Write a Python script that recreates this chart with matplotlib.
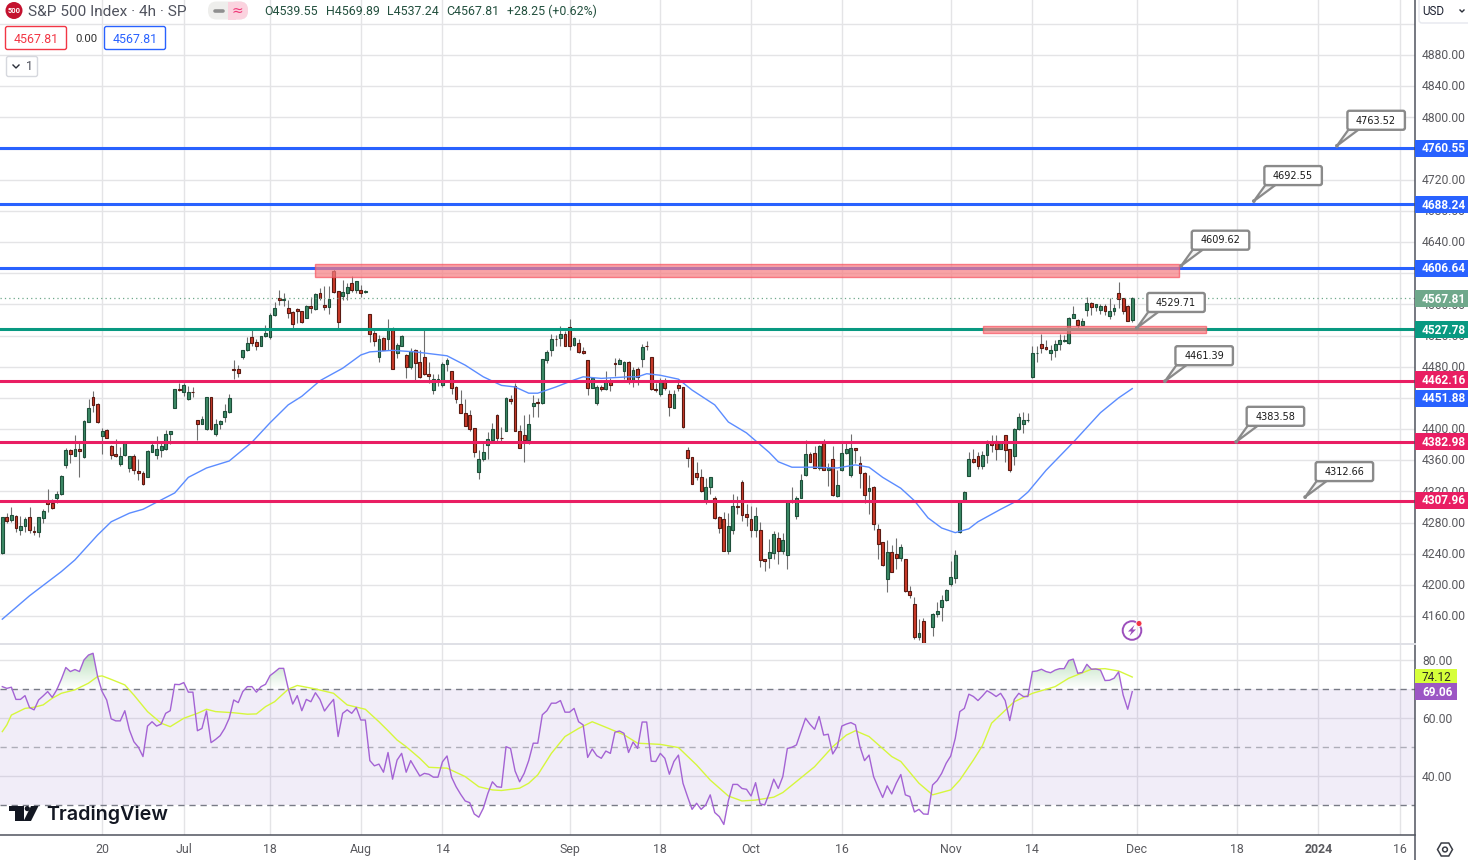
import numpy as np
import matplotlib
matplotlib.use("Agg")
import matplotlib.pyplot as plt
from matplotlib.patches import Circle, FancyBboxPatch, Polygon, Rectangle

plt.rcParams["font.family"] = ["Roboto", "DejaVu Sans"]

nan = float("nan")

# 4h candles, one slot per bar (no bar printed in slot 204)
opens = [
    4241, 4287, 4283, 4289, 4270, 4275, 4287, 4269, 4268, 4286,
    4308, 4305, 4312, 4316, 4354, 4373, 4366, 4375, 4364, 4409,
    4441, 4432, 4391, 4399, 4378, 4368, 4355, 4367, 4350, 4365,
    4346, 4343, 4339, 4371, 4367, 4373, 4375, 4393, 4427, 4451,
    4447, 4438, 4448, 4411, 4407, 4400, 4441, 4394, 4406, 4416,
    4422, 4477, 4477, 4492, 4501, 4518, 4512, 4507, 4519, 4518,
    4546, 4568, 4566, 4555, 4550, 4554, 4552, 4543, 4558, 4554,
    4575, 4559, 4556, 4603, 4577, 4571, 4575, 4587, 4579, 4578,
    4576, 4547, 4523, 4493, 4517, 4516, 4528, 4497, 4507, 4495,
    4480, 4502, 4486, 4492, 4471, 4450, 4463, 4457, 4483, 4474,
    4454, 4432, 4421, 4418, 4401, 4345, 4361, 4380, 4386, 4418,
    4389, 4398, 4439, 4455, 4398, 4392, 4386, 4429, 4435, 4433,
    4489, 4501, 4516, 4517, 4522, 4531, 4508, 4510, 4500, 4489,
    4453, 4433, 4454, 4451, 4462, 4485, 4484, 4474, 4486, 4463,
    4477, 4490, 4507, 4493, 4451, 4445, 4462, 4445, 4427, 4456,
    4454, 4373, 4364, 4343, 4338, 4309, 4326, 4311, 4287, 4285,
    4243, 4271, 4301, 4332, 4291, 4284, 4271, 4270, 4233, 4235,
    4241, 4260, 4243, 4238, 4307, 4289, 4312, 4341, 4368, 4369,
    4350, 4382, 4347, 4361, 4314, 4347, 4369, 4341, 4376, 4356,
    4343, 4321, 4326, 4272, 4255, 4208, 4242, 4239, 4234, 4233,
    4192, 4176, 4133, 4154, nan,
    4146, 4162, 4172, 4180, 4201, 4209, 4268, 4307, 4340, 4362,
    4365, 4353, 4367, 4382, 4385, 4374, 4392, 4374, 4366, 4400,
    4407, 4411, 4467, 4497, 4509, 4505, 4497, 4501, 4509, 4513,
    4510, 4543, 4540, 4534, 4553, 4562, 4556, 4553, 4558, 4545,
    4551, 4574, 4568, 4558, 4539.55,
]
highs = [
    4287, 4292, 4300, 4290, 4288, 4287, 4300, 4276, 4287, 4298,
    4323, 4310, 4320, 4341, 4376, 4375, 4392, 4384, 4412, 4439,
    4449, 4433, 4401, 4400, 4379, 4387, 4377, 4383, 4366, 4368,
    4362, 4346, 4373, 4384, 4391, 4384, 4399, 4397, 4452, 4459,
    4459, 4455, 4454, 4412, 4417, 4441, 4441, 4413, 4412, 4432,
    4445, 4489, 4482, 4502, 4518, 4527, 4516, 4520, 4534, 4549,
    4563, 4578, 4575, 4566, 4552, 4555, 4552, 4559, 4570, 4575,
    4581, 4583, 4584, 4608, 4577, 4591, 4587, 4596, 4590, 4585,
    4579, 4547, 4527, 4521, 4518, 4541, 4531, 4511, 4521, 4496,
    4504, 4503, 4501, 4528, 4486, 4471, 4471, 4486, 4491, 4475,
    4455, 4450, 4439, 4424, 4401, 4373, 4382, 4396, 4408, 4419,
    4402, 4441, 4444, 4459, 4405, 4418, 4419, 4444, 4440, 4490,
    4501, 4522, 4521, 4532, 4526, 4541, 4518, 4516, 4505, 4489,
    4467, 4456, 4456, 4474, 4465, 4491, 4491, 4487, 4487, 4479,
    4480, 4509, 4513, 4493, 4459, 4466, 4465, 4450, 4450, 4460,
    4454, 4377, 4364, 4358, 4349, 4337, 4339, 4314, 4288, 4294,
    4292, 4317, 4314, 4335, 4304, 4301, 4300, 4281, 4233, 4259,
    4269, 4268, 4266, 4309, 4326, 4314, 4342, 4386, 4371, 4378,
    4380, 4387, 4357, 4378, 4347, 4385, 4385, 4394, 4376, 4365,
    4345, 4341, 4327, 4278, 4255, 4257, 4251, 4260, 4253, 4233,
    4198, 4185, 4156, 4157, nan,
    4164, 4178, 4187, 4195, 4231, 4245, 4308, 4320, 4370, 4374,
    4371, 4372, 4386, 4392, 4392, 4385, 4392, 4374, 4401, 4420,
    4422, 4420, 4506, 4506, 4522, 4514, 4508, 4514, 4522, 4521,
    4544, 4558, 4541, 4543, 4569, 4563, 4561, 4561, 4561, 4568,
    4561, 4589, 4568, 4559, 4569.89,
]
lows = [
    4240, 4279, 4281, 4268, 4264, 4268, 4266, 4264, 4262, 4280,
    4293, 4298, 4305, 4315, 4350, 4356, 4365, 4339, 4363, 4409,
    4422, 4408, 4368, 4388, 4361, 4364, 4353, 4366, 4345, 4342,
    4334, 4328, 4338, 4370, 4361, 4364, 4373, 4381, 4427, 4449,
    4442, 4437, 4441, 4386, 4406, 4399, 4399, 4391, 4400, 4409,
    4421, 4464, 4467, 4490, 4500, 4506, 4501, 4506, 4518, 4516,
    4545, 4559, 4558, 4542, 4529, 4536, 4536, 4542, 4549, 4553,
    4566, 4553, 4548, 4575, 4529, 4565, 4565, 4576, 4574, 4569,
    4574, 4512, 4507, 4486, 4501, 4501, 4477, 4491, 4507, 4465,
    4477, 4462, 4466, 4469, 4459, 4445, 4455, 4454, 4474, 4445,
    4434, 4420, 4404, 4398, 4364, 4336, 4359, 4361, 4385, 4385,
    4384, 4397, 4432, 4397, 4376, 4358, 4381, 4416, 4416, 4432,
    4485, 4494, 4507, 4507, 4507, 4501, 4507, 4497, 4496, 4444,
    4453, 4431, 4449, 4450, 4449, 4468, 4483, 4464, 4458, 4454,
    4456, 4479, 4501, 4450, 4447, 4442, 4450, 4417, 4427, 4449,
    4401, 4351, 4329, 4335, 4319, 4304, 4317, 4285, 4267, 4243,
    4240, 4265, 4291, 4282, 4276, 4262, 4262, 4223, 4218, 4222,
    4233, 4227, 4240, 4221, 4305, 4284, 4311, 4340, 4358, 4350,
    4347, 4347, 4327, 4314, 4313, 4346, 4368, 4339, 4356, 4324,
    4305, 4291, 4270, 4233, 4224, 4191, 4216, 4220, 4230, 4191,
    4183, 4131, 4129, 4125, nan,
    4134, 4159, 4154, 4179, 4199, 4203, 4267, 4306, 4340, 4357,
    4349, 4349, 4357, 4371, 4360, 4374, 4358, 4345, 4354, 4399,
    4395, 4409, 4466, 4486, 4497, 4502, 4489, 4493, 4501, 4512,
    4509, 4542, 4528, 4533, 4545, 4546, 4552, 4548, 4546, 4541,
    4546, 4555, 4548, 4538, 4537.24,
]
closes = [
    4287, 4282, 4290, 4273, 4275, 4284, 4271, 4268, 4287, 4295,
    4304, 4299, 4317, 4340, 4373, 4368, 4375, 4372, 4410, 4427,
    4431, 4409, 4397, 4389, 4367, 4365, 4366, 4382, 4365, 4348,
    4343, 4329, 4372, 4379, 4374, 4378, 4394, 4397, 4451, 4450,
    4457, 4448, 4447, 4407, 4413, 4441, 4400, 4406, 4410, 4423,
    4440, 4476, 4472, 4501, 4510, 4511, 4506, 4519, 4523, 4546,
    4555, 4565, 4567, 4549, 4535, 4551, 4537, 4558, 4555, 4573,
    4568, 4556, 4567, 4576, 4537, 4576, 4582, 4579, 4590, 4575,
    4577, 4522, 4513, 4516, 4501, 4528, 4477, 4508, 4519, 4480,
    4500, 4485, 4467, 4471, 4468, 4464, 4464, 4483, 4489, 4453,
    4438, 4421, 4404, 4400, 4371, 4362, 4370, 4387, 4400, 4389,
    4388, 4440, 4436, 4398, 4376, 4386, 4406, 4434, 4434, 4490,
    4499, 4515, 4515, 4522, 4507, 4507, 4517, 4499, 4497, 4453,
    4466, 4454, 4451, 4461, 4457, 4484, 4489, 4486, 4462, 4476,
    4467, 4505, 4506, 4451, 4450, 4462, 4453, 4428, 4445, 4453,
    4402, 4363, 4330, 4338, 4320, 4326, 4338, 4286, 4273, 4244,
    4275, 4301, 4300, 4290, 4287, 4271, 4289, 4232, 4230, 4242,
    4265, 4243, 4258, 4307, 4309, 4312, 4335, 4368, 4358, 4350,
    4378, 4348, 4350, 4315, 4328, 4369, 4374, 4376, 4373, 4343,
    4315, 4324, 4278, 4253, 4225, 4242, 4217, 4234, 4248, 4192,
    4187, 4133, 4138, 4126, nan,
    4162, 4167, 4180, 4194, 4210, 4238, 4308, 4319, 4362, 4358,
    4353, 4367, 4381, 4379, 4374, 4383, 4373, 4347, 4400, 4415,
    4411, 4412, 4497, 4498, 4504, 4503, 4501, 4509, 4514, 4514,
    4543, 4548, 4534, 4539, 4562, 4556, 4560, 4558, 4551, 4551,
    4555, 4567, 4551, 4539, 4567.81,
]

# moving average, read at the bars where it bends
ma_bars = [
    0, 6, 13, 16, 21, 24, 28, 31, 35, 38, 41, 45, 50, 55, 59, 63, 66, 70, 75, 79, 81,
    86, 91, 98, 102, 106, 110, 113, 116, 118, 122, 126, 128, 132, 138, 140, 142, 145,
    149, 152, 157, 160, 164, 169, 171, 174, 179, 184, 188, 191, 194, 198, 201, 204,
    207, 210, 213, 215, 220, 224, 226, 230, 236, 242, 246, 249,
]
ma_values = [
    4156, 4186, 4217, 4232, 4264, 4281, 4292, 4297, 4309, 4318, 4338, 4350, 4359, 4383,
    4408, 4431, 4442, 4462, 4478, 4495, 4499, 4501, 4499, 4494, 4482, 4467, 4456, 4454,
    4446, 4446, 4454, 4463, 4467, 4465, 4467, 4467, 4471, 4469, 4464, 4450, 4431, 4409,
    4395, 4370, 4358, 4351, 4351, 4350, 4354, 4351, 4338, 4324, 4308, 4286, 4273, 4267,
    4272, 4281, 4297, 4309, 4319, 4347, 4383, 4421, 4440, 4451.88,
]

rsi_values = [
    70.8, 70.2, 70.6, 66.4, 66.4, 67.7, 63.6, 62.8, 66.2, 67.6,
    69.1, 67.1, 69.7, 73.3, 77.4, 76.0, 76.7, 76.0, 80.0, 81.7,
    82.3, 74.3, 69.1, 66.2, 59.7, 59.0, 59.0, 62.5, 55.9, 51.8,
    49.9, 46.7, 57.2, 58.7, 57.2, 57.9, 61.6, 62.5, 71.6, 71.5,
    72.2, 68.9, 68.9, 55.6, 56.4, 62.4, 51.5, 52.6, 53.9, 56.4,
    59.9, 66.2, 65.3, 69.1, 70.8, 70.8, 68.9, 70.8, 71.6, 74.6,
    75.8, 77.1, 77.1, 70.2, 64.8, 67.7, 62.5, 66.4, 65.6, 68.7,
    66.4, 62.4, 64.5, 66.4, 53.6, 61.6, 62.8, 61.6, 63.6, 59.3,
    59.3, 45.3, 43.5, 44.1, 41.3, 48.1, 38.9, 45.5, 47.8, 41.3,
    45.3, 42.6, 40.0, 40.9, 40.6, 39.6, 39.6, 44.9, 46.9, 39.6,
    36.3, 33.7, 31.4, 30.8, 26.9, 25.8, 28.9, 34.0, 38.0, 36.3,
    36.1, 50.1, 49.5, 41.7, 38.0, 40.9, 45.3, 51.3, 51.3, 61.1,
    62.5, 65.1, 65.1, 66.0, 62.0, 62.0, 63.3, 58.7, 57.6, 46.4,
    49.3, 47.0, 46.1, 48.6, 47.8, 55.1, 55.5, 54.7, 48.1, 51.7,
    49.5, 58.6, 58.6, 45.1, 45.0, 47.8, 46.1, 40.6, 45.0, 47.2,
    37.5, 32.9, 28.5, 30.6, 28.5, 30.0, 33.5, 27.4, 26.0, 23.3,
    31.5, 37.1, 37.1, 35.7, 35.4, 33.1, 37.7, 30.4, 30.0, 34.0,
    38.9, 35.7, 39.8, 49.5, 49.9, 50.7, 55.3, 59.9, 57.8, 56.1,
    60.5, 54.1, 54.4, 47.6, 50.1, 57.2, 57.9, 58.4, 57.6, 50.1,
    45.3, 47.2, 39.8, 36.1, 32.6, 36.6, 33.8, 37.5, 40.5, 33.5,
    32.9, 27.6, 28.5, 26.9, 26.8, 36.9, 38.4, 40.9, 44.4, 46.9,
    53.0, 62.2, 63.3, 68.2, 67.4, 66.0, 67.6, 69.4, 68.5, 67.4,
    68.5, 66.0, 59.1, 66.4, 68.5, 67.4, 67.4, 76.0, 76.2, 76.8,
    76.0, 75.6, 76.5, 77.0, 77.0, 79.8, 80.3, 75.4, 75.7, 78.5,
    76.8, 76.9, 76.5, 72.9, 73.0, 73.7, 75.9, 67.9, 63.0, 69.06,
]
rsi_ma_bars = [
    0, 1, 2, 5, 7, 9, 11, 13, 16, 19, 21, 22, 24, 27, 29, 32, 35, 37, 40, 43, 45, 47,
    51, 54, 56, 58, 60, 63, 65, 69, 73, 76, 80, 83, 85, 87, 89, 92, 94, 98, 102, 105,
    108, 110, 114, 116, 118, 121, 124, 127, 130, 133, 137, 140, 145, 149, 153, 156,
    160, 163, 166, 170, 172, 175, 179, 183, 186, 188, 191, 196, 198, 202, 205, 209,
    211, 214, 216, 218, 223, 227, 232, 235, 240, 243, 246, 249,
]
rsi_ma_values = [
    55.3, 57.6, 61.0, 63.3, 63.7, 64.5, 66.8, 68.5, 69.7, 72.0, 74.3, 74.5, 73.3, 71.4,
    67.9, 62.2, 58.2, 57.0, 59.9, 61.6, 63.0, 62.2, 61.8, 61.3, 61.4, 63.9, 65.6, 69.9,
    71.2, 70.0, 68.5, 64.5, 63.0, 58.7, 55.6, 52.4, 50.1, 46.1, 43.0, 42.7, 39.8, 36.3,
    35.2, 35.0, 35.8, 37.5, 40.4, 47.8, 53.6, 56.4, 58.7, 56.8, 54.2, 51.3, 50.9, 49.8,
    43.8, 38.6, 33.1, 31.4, 31.7, 32.7, 34.3, 38.1, 43.2, 50.1, 54.1, 55.6, 53.6, 46.7,
    45.0, 37.5, 33.5, 35.2, 38.6, 45.5, 50.5, 58.2, 65.6, 68.5, 70.8, 73.7, 76.8, 77.0,
    76.2, 74.12,
]

levels_blue = [4760.55, 4688.24, 4606.64]
levels_green = [4527.78]
levels_pink = [4462.16, 4382.98, 4307.96]
last_close = 4567.81

# bar slot, price and text of the callouts
callout_bars = [294.1, 275.8, 259.8, 250.0, 256.2, 271.9, 287.1]
callout_prices = [4763.52, 4692.55, 4609.62, 4529.71, 4461.39, 4383.58, 4312.66]

zone_bars = [(68.9, 259.3), (216.1, 265.2)]
zone_prices = [(4595, 4612), (4523, 4532)]

time_bars = [22, 40, 59, 79, 97, 125, 145, 165, 185, 209, 227, 250, 272, 290, 308]
time_labels = ["20", "Jul", "18", "Aug", "14", "Sep", "18", "Oct", "16", "Nov", "14", "Dec", "18", "2024", "16"]
price_ticks = [4160 + 40 * k for k in range(19)]
# these three sit fully behind a level tag in the reference
hidden_ticks = [4760, 4600, 4440]
grid_prices = price_ticks + [4920]
rsi_ticks = [40, 60, 80]

opens = np.array(opens, dtype=float)
highs = np.array(highs, dtype=float)
lows = np.array(lows, dtype=float)
closes = np.array(closes, dtype=float)
rsi_values = np.array(rsi_values)
bars = np.arange(len(opens))

W, H = 1468, 860
BLUE = "#2962ff"
TEAL = "#089981"
PINK = "#e91e63"
GRID = "#e4e4e6"
LABEL = "#5a5a5f"
AXIS = "#50535e"


def px_rect(left, top, right, bottom):
    return [left / W, 1 - bottom / H, (right - left) / W, (bottom - top) / H]


fig = plt.figure(figsize=(W / 100, H / 100), dpi=100, facecolor="white")
ax = fig.add_axes(px_rect(0, 0, 1414.5, 643))
ax_rsi = fig.add_axes(px_rect(0, 644, 1414.5, 835))
ov = fig.add_axes([0, 0, 1, 1], zorder=10)
ov.set_xlim(0, W)
ov.set_ylim(H, 0)
ov.axis("off")
ov.patch.set_alpha(0)

xlim = (-0.507, 311.2)

# price pane
ax.set_xlim(*xlim)
ax.set_ylim(4125.4, 4950.6)
ax.set_xticks(time_bars)
ax.set_xticklabels([])
ax.set_yticks(grid_prices)
ax.set_yticklabels([])
ax.tick_params(length=0)
ax.grid(True, color=GRID, lw=1, zorder=0)
ax.set_axisbelow(True)
for s in ax.spines.values():
    s.set_visible(False)

up = closes >= opens
ax.vlines(bars, lows, highs, color="#6f6f6f", lw=0.8, zorder=2)
body_low = np.minimum(opens, closes)
body_h = np.abs(closes - opens)
ax.bar(bars[up], body_h[up], bottom=body_low[up], width=0.62, color="#3c8a66", edgecolor="#1e4f3a", lw=0.8, zorder=3)
ax.bar(bars[~up], body_h[~up], bottom=body_low[~up], width=0.62, color="#cb3a29", edgecolor="#5a1a12", lw=0.8, zorder=3)
ax.plot(ma_bars, ma_values, color="#5b8cff", lw=1.0, zorder=4)

ax.axhline(last_close, color="#6fa88b", lw=0.9, ls=(0, (1, 2.5)), zorder=4)
for p in levels_blue:
    ax.axhline(p, color=BLUE, lw=2.2, zorder=5)
for p in levels_green:
    ax.axhline(p, color=TEAL, lw=2.2, zorder=5)
for p in levels_pink:
    ax.axhline(p, color=PINK, lw=2.2, zorder=5)

for (x0, x1), (p0, p1) in zip(zone_bars, zone_prices):
    ax.add_patch(Rectangle((x0, p0), x1 - x0, p1 - p0, facecolor="#f77c80", alpha=0.7, edgecolor="#f7525f", lw=1, zorder=6))

# rsi pane
ax_rsi.set_xlim(*xlim)
ax_rsi.set_ylim(19.66, 85.5)
ax_rsi.set_xticks(time_bars)
ax_rsi.set_xticklabels(time_labels, fontsize=8.9, color=LABEL)
ax_rsi.set_yticks(rsi_ticks)
ax_rsi.set_yticklabels([])
ax_rsi.tick_params(length=0, pad=5.5)
ax_rsi.grid(True, color=GRID, lw=1, zorder=0)
ax_rsi.set_axisbelow(True)
ax_rsi.get_xticklabels()[time_labels.index("2024")].set_fontweight("bold")
for s in ax_rsi.spines.values():
    s.set_visible(False)
ax_rsi.axhspan(30, 70, color="#7e57c2", alpha=0.1, lw=0, zorder=1)
for lvl, alpha in ((70, 1), (50, 0.55), (30, 1)):
    ax_rsi.axhline(lvl, color="#787b86", alpha=alpha, lw=1, ls=(0, (4.5, 3.5)), zorder=2)

# gradient under the overbought and oversold parts of the line
top_grad = np.zeros((64, 2, 4))
top_grad[..., 0:3] = matplotlib.colors.to_rgb("#4caf50")
top_grad[..., 3] = np.linspace(0.42, 0, 64)[:, None]
low_grad = np.zeros((64, 2, 4))
low_grad[..., 0:3] = matplotlib.colors.to_rgb("#8a9a80")
low_grad[..., 3] = np.linspace(0, 0.14, 64)[:, None]
poly_hi = ax_rsi.fill_between(bars, 70, rsi_values, where=rsi_values >= 70, interpolate=True, color="none")
poly_lo = ax_rsi.fill_between(bars, 30, rsi_values, where=rsi_values <= 30, interpolate=True, color="none")
for poly, grad, ext in ((poly_hi, top_grad, (xlim[0], xlim[1], 70, 83)), (poly_lo, low_grad, (xlim[0], xlim[1], 22, 30))):
    for path in poly.get_paths():
        im = ax_rsi.imshow(grad, extent=ext, aspect="auto", origin="upper", zorder=2)
        im.set_clip_path(path, transform=ax_rsi.transData)
ax_rsi.set_xlim(*xlim)
ax_rsi.set_ylim(19.66, 85.5)

ax_rsi.plot(bars, rsi_values, color="#a463d4", lw=1.0, zorder=4)
ax_rsi.plot(rsi_ma_bars, rsi_ma_values, color="#d6f73c", lw=1.0, zorder=3)


def to_ov(axes, x, y):
    return ov.transData.inverted().transform(axes.transData.transform((x, y)))


# frame lines
ov.plot([1414.5, 1414.5], [0, H], color=AXIS, lw=1.1)
ov.plot([0, 1414.5], [835, 835], color=AXIS, lw=1.1)
ov.plot([0, 1414.5], [643.5, 643.5], color="#dfe0e6", lw=1.4)

# axis labels
for p in price_ticks:
    if p in hidden_ticks:
        continue
    _, y = to_ov(ax, 0, p)
    ov.text(1422, y + 0.8, f"{p:.2f}", fontsize=8.7, color=LABEL, va="center", ha="left")
for p in rsi_ticks:
    _, y = to_ov(ax_rsi, 0, p)
    ov.text(1422, y + 1.2, f"{p:.2f}", fontsize=8.7, color=LABEL, va="center", ha="left")


def tag(y, text, bg, fg="white", right=W, weight="bold"):
    ov.add_patch(Rectangle((1414.5, y - 8.5), right - 1414.5, 17, facecolor=bg, edgecolor="none", zorder=3))
    ov.text(1422, y + 0.8, text, fontsize=8.5, color=fg, va="center", ha="left", fontweight=weight, zorder=4)


for p in levels_blue:
    tag(to_ov(ax, 0, p)[1], f"{p:.2f}", BLUE)
tag(to_ov(ax, 0, last_close)[1], f"{last_close:.2f}", "#6fa88b")
for p in levels_green:
    tag(to_ov(ax, 0, p)[1], f"{p:.2f}", TEAL)
for p in levels_pink:
    tag(to_ov(ax, 0, p)[1] - 0.6, f"{p:.2f}", PINK)
# the average's tag gets pushed below the 4462.16 one, as the platform does
tag(to_ov(ax, 0, ma_values[-1])[1] + 9.5, f"{ma_values[-1]:.2f}", BLUE)
tag(to_ov(ax_rsi, 0, rsi_ma_values[-1])[1], f"{rsi_ma_values[-1]:.2f}", "#d6ff3a", fg="#2a2a20", right=1457, weight="normal")
tag(to_ov(ax_rsi, 0, rsi_values[-1])[1], f"{rsi_values[-1]:.2f}", "#9c56c4", right=1457)

# callouts
for b, p in zip(callout_bars, callout_prices):
    ax_x, ax_y = to_ov(ax, b, p)
    left, bottom = ax_x + 9.5, ax_y - 15.5
    ov.add_patch(Polygon([(ax_x, ax_y), (left + 2, bottom - 0.5), (left + 12, bottom - 0.5)], closed=True,
                         facecolor="#f4f4f4", edgecolor="#8a8a8a", lw=1.6, zorder=5))
    ov.add_patch(FancyBboxPatch((left + 1, bottom - 19.5), 57.5, 19, boxstyle="round,pad=0,rounding_size=2",
                                facecolor="white", edgecolor="#8a8a8a", lw=1.7, zorder=6))
    ov.add_patch(Circle((ax_x, ax_y), 1.9, facecolor="#8a8a8a", edgecolor="none", zorder=6))
    ov.text(left + 29.7, bottom - 9.7, f"{p:.2f}", fontsize=7.0, family="DejaVu Sans", color="#1a1a1a", ha="center", va="center", zorder=7)

# header
ov.add_patch(Circle((14, 10.5), 8.5, facecolor="#c4122f", edgecolor="none"))
ov.text(14, 10.9, "500", fontsize=5.4, color="white", fontweight="bold", ha="center", va="center")
ov.text(28, 11.5, "S&P 500 Index · 4h · SP", fontsize=11.1, color="#50535e", va="center", ha="left")
ov.add_patch(FancyBboxPatch((208, 1.5), 40, 18, boxstyle="round,pad=0,rounding_size=8.5", facecolor="#eeeeec", edgecolor="none"))
ov.add_patch(FancyBboxPatch((228, 1.5), 20, 18, boxstyle="round,pad=0,rounding_size=8.5", facecolor="#fbd3df", edgecolor="none"))
ov.add_patch(Rectangle((228, 1.5), 8, 18, facecolor="#fbd3df", edgecolor="none"))
ov.plot([214.5, 223], [10.5, 10.5], color="#8f8f8f", lw=2.6, solid_capstyle="round")
ov.text(237, 10.5, "≈", fontsize=10, color="#ef3a78", ha="center", va="center", family="DejaVu Sans")
ohlc_text = ["O4539.55", "H4569.89", "L4537.24", "C4567.81", "+28.25 (+0.62%)"]
ohlc_x = [264, 326, 387, 446, 507]
for x, t in zip(ohlc_x, ohlc_text):
    ov.text(x, 11.3, t, fontsize=8.9, color="#23503e", va="center", ha="left")

ov.add_patch(FancyBboxPatch((5.5, 26.5), 61, 23, boxstyle="round,pad=0,rounding_size=2", facecolor="white", edgecolor="#f23645", lw=1))
ov.text(36, 39.2, "4567.81", fontsize=8.9, color="#f23645", ha="center", va="center")
ov.text(86, 38.8, "0.00", fontsize=8.2, color="#303030", ha="center", va="center")
ov.add_patch(FancyBboxPatch((104.5, 26.5), 61, 23, boxstyle="round,pad=0,rounding_size=2", facecolor="white", edgecolor=BLUE, lw=1))
ov.text(135, 39.2, "4567.81", fontsize=8.9, color=BLUE, ha="center", va="center")
ov.add_patch(FancyBboxPatch((6.5, 56.5), 31, 20, boxstyle="round,pad=0,rounding_size=2", facecolor="white", edgecolor="#d6d8de", lw=1))
ov.plot([13, 16, 19], [65, 68, 65], color="#2a2e39", lw=1)
ov.text(29, 67, "1", fontsize=8.9, color="#50535e", ha="center", va="center")

# currency box
ov.add_patch(FancyBboxPatch((1419, -4), 60, 27, boxstyle="round,pad=0,rounding_size=3", facecolor="white", edgecolor="#e6e8ee", lw=1))
ov.text(1422, 11.5, "USD", fontsize=8.4, color="#1c2030", va="center", ha="left")
ov.plot([1460, 1462, 1464], [10, 12, 10], color="#2a2e39", lw=1)

# watermark
wm = "#131722"
ov.add_patch(Polygon([(9, 806), (24, 806), (24, 821), (15, 821), (15, 811.2), (9, 811.2)], closed=True, facecolor=wm, edgecolor="none"))
ov.add_patch(Circle((27.3, 808.6), 2.6, facecolor=wm, edgecolor="none"))
ov.add_patch(Polygon([(31, 806), (38.5, 806), (31, 821), (23.6, 821)], closed=True, facecolor=wm, edgecolor="none"))
ov.text(46.5, 814.5, "TradingView", fontsize=14.2, family="Inter", fontweight="semibold", color=wm, va="center", ha="left")

# alert icon
ov.add_patch(Circle((1132, 630.5), 9.3, facecolor="none", edgecolor="#9c4fbc", lw=1.4))
ov.add_patch(Polygon([(1134.5, 625), (1128, 631.5), (1131.5, 631.5), (1129.5, 636), (1136, 629.5), (1132.5, 629.5)],
                     closed=True, facecolor="#9c4fbc", edgecolor="none"))
ov.add_patch(Circle((1139, 623.5), 3, facecolor="#f23645", edgecolor="white", lw=0.6))

# settings icon
hex_t = np.deg2rad(np.arange(0, 360, 60))
ov.add_patch(Polygon(np.c_[1445 + 7.5 * np.cos(hex_t), 849.5 + 7.5 * np.sin(hex_t)], closed=True, facecolor="none", edgecolor="#3a3d46", lw=1.1))
ov.add_patch(Circle((1445, 849.5), 2.4, facecolor="none", edgecolor="#3a3d46", lw=1.1))

fig.savefig("out.png", dpi=100)
